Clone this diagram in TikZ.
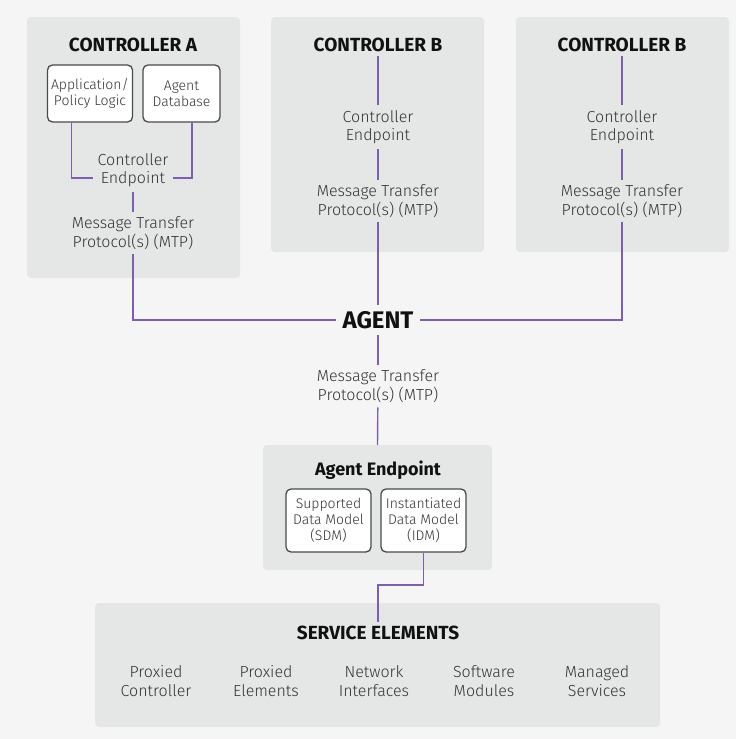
\documentclass[tikz,border=0pt]{standalone}
\usepackage{fontspec}
\setmainfont{Fira Sans}[UprightFont=* Light, BoldFont=* Bold]
\usetikzlibrary{positioning,calc}

\definecolor{bggray}{HTML}{F5F5F5}
\definecolor{panelgray}{HTML}{E5E6E6}
\definecolor{edgegray}{HTML}{4A4A4A}
\definecolor{linkpurple}{HTML}{7E5FAF}
\definecolor{textgray}{HTML}{333333}
\definecolor{titleblack}{HTML}{111111}

\tikzset{
    panel/.style={fill=panelgray,rounded corners=4pt,inner sep=0pt},
    inbox/.style={draw=edgegray,line width=1.3pt,fill=white,rounded corners=5pt,
        align=center,inner sep=0pt,text=textgray,font=\fontsize{14}{16}\selectfont},
    title/.style={text=titleblack,font=\fontsize{19}{22}\selectfont\bfseries,inner sep=4pt},
    body/.style={text=textgray,align=center,font=\fontsize{16}{18.5}\selectfont,inner sep=5pt},
    link/.style={draw=linkpurple,line width=1.4pt}
}

\begin{document}
\begin{tikzpicture}[x=1pt,y=-1pt]
        % Background
        \fill[bggray] (0,0) rectangle (736,739);
        \useasboundingbox (0,0) rectangle (736,739);

        %%%% Controllers ================================
        % Panels
        \node[panel,minimum width=213pt,minimum height=261pt] (ctrlA) at (133.5,147.5) {};
        \node[panel,minimum width=213pt,minimum height=235pt] (ctrlB1) at (377.5,134.5) {};
        \node[panel,minimum width=213pt,minimum height=235pt] (ctrlB2) at (622.5,134.5) {};

        % Titles
        \node[title] (tA) at (133,45) {CONTROLLER A};
        \node[title] (tB1) at (378,45) {CONTROLLER B};
        \node[title] (tB2) at (622,45) {CONTROLLER B};

        % Inner boxes
        \node[inbox,minimum width=85pt,minimum height=57pt] (app) at (90,93.5) {Application/\\Policy Logic};
        \node[inbox,minimum width=77pt,minimum height=57pt] (adb) at (181.5,93.5) {Agent\\Database};

        % Endpoints and protocols
        \node[body] (cepA) at (133,170) {Controller\\Endpoint};
        \node[body] (mtpA) at (133,233) {Message Transfer\\Protocol(s) (MTP)};
        \node[body] (cepB1) at (378,127) {Controller\\Endpoint};
        \node[body] (mtpB1) at (378,201) {Message Transfer\\Protocol(s) (MTP)};
        \node[body] (cepB2) at (622,127) {Controller\\Endpoint};
        \node[body] (mtpB2) at (622,201) {Message Transfer\\Protocol(s) (MTP)};

        %%%% Agent ======================================
        \node[title,font=\fontsize{24}{28}\selectfont\bfseries,inner sep=6pt] (agent) at (378,320) {AGENT};
        \node[body] (mtpD) at (378,386) {Message Transfer\\Protocol(s) (MTP)};

        % Agent endpoint
        \node[panel,minimum width=229pt,minimum height=125pt] (aep) at (377.5,507.5) {};
        \node[title,font=\fontsize{18}{21}\selectfont\bfseries] (tAep) at (378,470) {Agent Endpoint};
        \node[inbox,minimum width=85pt,minimum height=63pt] (sdm) at (328.5,520.5) {Supported\\Data Model\\(SDM)};
        \node[inbox,minimum width=85pt,minimum height=63pt] (idm) at (423.5,520.5) {Instantiated\\Data Model\\(IDM)};

        %%%% Service elements ===========================
        \node[panel,minimum width=565pt,minimum height=124pt] (svc) at (377.5,665) {};
        \node[title] (tSvc) at (378,633) {SERVICE ELEMENTS};
        \node[body] (sv1) at (156,681) {Proxied\\Controller};
        \node[body] (sv2) at (266,681) {Proxied\\Elements};
        \node[body] (sv3) at (374,681) {Network\\Interfaces};
        \node[body] (sv4) at (484,681) {Software\\Modules};
        \node[body] (sv5) at (597,681) {Managed\\Services};

        % Arcs
        \draw[link] ([xshift=-18.5pt]app.south) |- ([yshift=-8pt]cepA.west);
        \draw[link] ([xshift=10.5pt]adb.south) |- ([yshift=-8pt]cepA.east);
        \draw[link] (cepA) -- (mtpA);
        \draw[link] (tB1) -- (cepB1);
        \draw[link] (cepB1) -- (mtpB1);
        \draw[link] (tB2) -- (cepB2);
        \draw[link] (cepB2) -- (mtpB2);
        \draw[link] (mtpA.south) |- (agent.west);
        \draw[link] (mtpB1) -- (agent);
        \draw[link] (mtpB2.south) |- (agent.east);
        \draw[link] (agent) -- (mtpD);
        \draw[link] (mtpD) -- (aep.north);
        \coordinate (elbow) at (378,585);
        \draw[link] (idm.south) |- (elbow) -- (tSvc.north);
    \end{tikzpicture}
\end{document}
